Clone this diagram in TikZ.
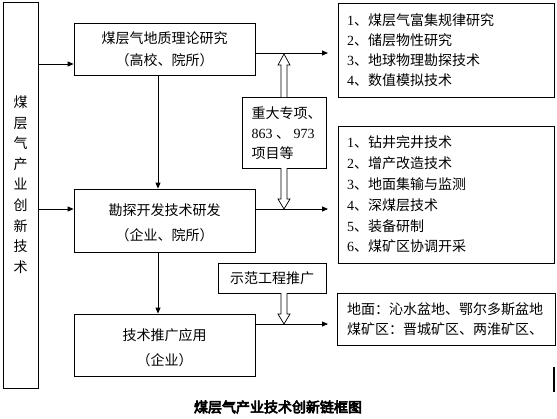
\documentclass[tikz,border=0pt]{standalone}
\usepackage{fontspec}
\setmainfont{Liberation Serif}
\newfontfamily\cjk{Noto Sans CJK SC}
\newfontfamily\cjkb{Noto Sans CJK SC}[FakeBold=4.5]
\usetikzlibrary{arrows.meta}
\newcommand\D[1]{{\rmfamily #1}}
\begin{document}
\begin{tikzpicture}[x=1pt,y=-1pt,
  box/.style={draw,line width=0.8pt,inner sep=0pt},
  txt/.style={align=center,inner sep=0pt},
  lst/.style={box,minimum width=216pt,text width=198pt,inner xsep=9pt,inner ysep=0pt,align=left},
  arr/.style={line width=0.8pt,-{Triangle[length=6pt,width=5pt]}},
  hollow/.style={draw,line width=0.7pt,fill=white}]
\useasboundingbox (0,0) rectangle (557,418);
% left tall box
\node[box,minimum width=35pt,minimum height=386pt] (L) at (20.5,195) {};
\node[txt,font=\cjk\fontsize{14}{20.6}\selectfont] (Lt) at (20.5,184.5) {煤\\层\\气\\产\\业\\创\\新\\技\\术};
% main boxes
\node[box,minimum width=181pt,minimum height=52pt] (B1) at (164.5,49) {};
\node[txt,font=\cjk\fontsize{14}{22}\selectfont] (B1t) at (164.5,49.5) {煤层气地质理论研究\\（高校、院所）};
\node[box,minimum width=181pt,minimum height=63pt] (B2) at (164.5,220.5) {};
\node[txt,font=\cjk\fontsize{14}{25}\selectfont] (B2t) at (164.5,223) {勘探开发技术研发\\（企业、院所）};
\node[box,minimum width=181pt,minimum height=62pt] (B3) at (164.5,345) {};
\node[txt,font=\cjk\fontsize{14}{25}\selectfont] (B3t) at (164.5,348) {技术推广应用\\（企业）};
% side boxes
\node[box,minimum width=84pt,minimum height=71pt] (ZD) at (284,132.5) {};
\node[txt,align=left,anchor=west,font=\cjk\fontsize{14}{20}\selectfont] (ZDt) at (251.5,133.5) {重大专项、\\\D{863 }、\D{ 973}\\项目等};
\node[box,minimum width=108pt,minimum height=30pt,font=\cjk\fontsize{14}{14}\selectfont] (SF) at (272,278) {示范工程推广};
% right boxes
\node[lst,minimum height=94pt,font=\cjk\fontsize{14}{20}\selectfont] (R1) at (446,50) {\D{1}、煤层气富集规律研究\\\D{2}、储层物性研究\\\D{3}、地球物理勘探技术\\\D{4}、数值模拟技术};
\node[lst,minimum height=137pt,font=\cjk\fontsize{14}{20.8}\selectfont] (R2) at (446,194.5) {\D{1}、钻井完井技术\\\D{2}、增产改造技术\\\D{3}、地面集输与监测\\\D{4}、深煤层技术\\\D{5}、装备研制\\\D{6}、煤矿区协调开采};
\node[lst,minimum height=52pt,inner xsep=10pt,font=\cjk\fontsize{14}{20}\selectfont] (R3) at (446,319) {地面：沁水盆地、鄂尔多斯盆地\\煤矿区：晋城矿区、两淮矿区、};
% arrow ends
\coordinate (e1) at (328,53);
\coordinate (e2) at (328,209);
\coordinate (e3) at (328,324);
% connectors
\draw[arr] (L.east |- 0,64) -- (B1.west |- 0,64);
\draw[arr] (L.east |- 0,209) -- (B2.west |- 0,209);
\draw[arr] (B1.east |- e1) -- (e1);
\draw[arr] (B2.east |- e2) -- (e2);
\draw[arr] (B3.east |- e3) -- (e3);
\draw[arr] (B1.south -| 158,0) -- (B2.north -| 158,0);
\draw[arr] (B2.south -| 158,0) -- (B3.north -| 158,0);
% hollow arrows
\draw[hollow] (281,97) -- (281,65) -- (278,65) -- (284,54) -- (290,65) -- (287,65) -- (287,97);
\draw[hollow] (281,168) -- (281,199) -- (278,199) -- (284,209) -- (290,199) -- (287,199) -- (287,168);
\draw[hollow] (281,293) -- (281,314) -- (278,314) -- (284,324) -- (290,314) -- (287,314) -- (287,293);
% stray bar
\draw[line width=2pt] (554,367) -- (554,392);
% caption
\node[font=\cjkb\fontsize{14}{14}\selectfont,inner sep=0pt] (cap) at (278,407) {煤层气产业技术创新链框图};
\end{tikzpicture}
\end{document}
